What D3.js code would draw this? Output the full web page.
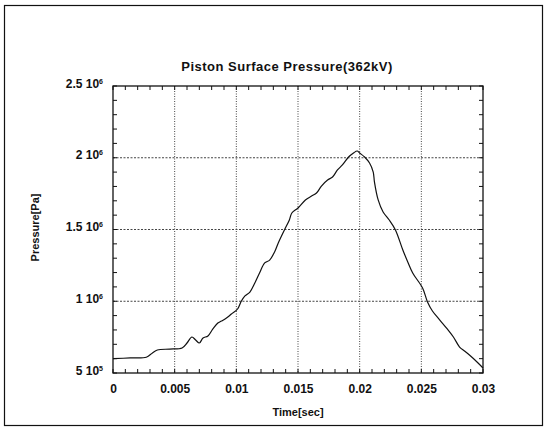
<!DOCTYPE html>
<html lang="en">
<head>
    <meta charset="UTF-8">
    <title>Piston Surface Pressure(362kV)</title>
    <script src="https://d3js.org/d3.v7.min.js"></script>
    <style>
        body { margin: 0; background: #fff; font-family: "Liberation Sans", Arial, sans-serif; }
        .tick text { font-weight: bold; }
    </style>
</head>
<body>
    <div id="chart"></div>
    <script>
        // time (s) and pressure (Pa)
        const timeValues = [0, 0.0014, 0.0027, 0.0032, 0.0036, 0.0046, 0.0056, 0.0060, 0.0064, 0.0067, 0.0070,
            0.0073, 0.0077, 0.0081, 0.0085, 0.0088, 0.0092, 0.0096, 0.0101, 0.0104, 0.0107, 0.0111, 0.0115,
            0.0119, 0.0123, 0.0127, 0.0131, 0.0134, 0.0139, 0.0143, 0.0145, 0.0150, 0.0156, 0.0161, 0.0165,
            0.0169, 0.0174, 0.0178, 0.0182, 0.0186, 0.0191, 0.0195, 0.0198, 0.0200, 0.0204, 0.0208, 0.0211,
            0.0212, 0.0215, 0.0219, 0.0224, 0.0229, 0.0235, 0.0239, 0.0243, 0.0251, 0.0255, 0.0259, 0.0265,
            0.0271, 0.0276, 0.0281, 0.0285, 0.0289, 0.0296, 0.0300];
        const pressureValues = [600000, 605000, 610000, 640000, 660000, 667000, 674000, 709000, 751000, 730000, 709000,
            744000, 758000, 807000, 848000, 862000, 883000, 911000, 946000, 1000000, 1037000, 1064000, 1127000,
            1200000, 1267000, 1287000, 1343000, 1406000, 1497000, 1566000, 1615000, 1650000, 1706000, 1733000, 1754000,
            1803000, 1845000, 1866000, 1915000, 1950000, 2005000, 2033000, 2047000, 2033000, 2005000, 1963000, 1900000,
            1830000, 1706000, 1622000, 1566000, 1497000, 1357000, 1274000, 1197000, 1092000, 995000, 932000, 869000,
            807000, 751000, 681000, 653000, 625000, 570000, 535000];

        const xTicks = [0, 0.005, 0.01, 0.015, 0.02, 0.025, 0.03];
        const xTickLabels = ["0", "0.005", "0.01", "0.015", "0.02", "0.025", "0.03"];
        const yTicks = [500000, 1000000, 1500000, 2000000, 2500000];
        const yTickMantissa = ["5", "1", "1.5", "2", "2.5"];
        const yTickExponent = ["5", "6", "6", "6", "6"];

        const width = 546, height = 429;
        const margin = { top: 86, right: 63, bottom: 56, left: 113 };
        const w = width - margin.left - margin.right;
        const h = height - margin.top - margin.bottom;

        const svg = d3.select("#chart").append("svg")
            .attr("width", width)
            .attr("height", height);

        // outer frame
        svg.append("rect")
            .attr("x", 4.5).attr("y", 5.5)
            .attr("width", 538).attr("height", 420)
            .attr("fill", "none").attr("stroke", "#111").attr("stroke-width", 1.2);

        const g = svg.append("g").attr("transform", `translate(${margin.left},${margin.top})`);

        const x = d3.scaleLinear().domain([0, 0.03]).range([0, w]);
        const y = d3.scaleLinear().domain([500000, 2500000]).range([h, 0]);

        // grid
        g.append("g").selectAll("line").data(xTicks.slice(1, -1)).enter().append("line")
            .attr("x1", d => x(d)).attr("x2", d => x(d)).attr("y1", 0).attr("y2", h)
            .attr("stroke", "#444").attr("stroke-dasharray", "1,1.5");
        g.append("g").selectAll("line").data(yTicks.slice(1, -1)).enter().append("line")
            .attr("y1", d => y(d)).attr("y2", d => y(d)).attr("x1", 0).attr("x2", w)
            .attr("stroke", "#444").attr("stroke-dasharray", "2,1.5");

        // minor + major ticks pointing inward on all four sides
        const xMinor = d3.range(0, 31).map(i => i * 0.001);
        const yMinor = d3.range(0, 21).map(i => 500000 + i * 100000);
        const tickG = g.append("g").attr("stroke", "#111");
        xMinor.forEach(t => {
            tickG.append("line").attr("x1", x(t)).attr("x2", x(t)).attr("y1", h).attr("y2", h - 4);
            tickG.append("line").attr("x1", x(t)).attr("x2", x(t)).attr("y1", 0).attr("y2", 4);
        });
        yMinor.forEach(p => {
            tickG.append("line").attr("y1", y(p)).attr("y2", y(p)).attr("x1", 0).attr("x2", 4);
            tickG.append("line").attr("y1", y(p)).attr("y2", y(p)).attr("x1", w).attr("x2", w - 4);
        });

        // x axis labels
        g.append("g")
            .attr("transform", `translate(0,${h})`)
            .call(d3.axisBottom(x).tickValues(xTicks).tickFormat((d, i) => xTickLabels[i]).tickSize(0).tickPadding(11))
            .call(a => a.select(".domain").remove())
            .selectAll("text").attr("font-size", 12).attr("fill", "#111")
            .attr("font-family", "'Liberation Sans', Arial, sans-serif");

        // y axis labels with superscript exponent
        const yAxis = g.append("g")
            .call(d3.axisLeft(y).tickValues(yTicks).tickSize(0).tickPadding(10).tickFormat(""));
        yAxis.select(".domain").remove();
        yAxis.selectAll(".tick text").each(function (d, i) {
            const t = d3.select(this)
                .attr("font-size", 12).attr("fill", "#111")
                .attr("font-family", "'Liberation Sans', Arial, sans-serif")
                .attr("dy", "0.1em");
            t.append("tspan").text(yTickMantissa[i] + " 10");
            t.append("tspan").text(yTickExponent[i]).attr("font-size", 7).attr("dy", "-0.6em");
        });

        // plot frame
        g.append("rect").attr("width", w).attr("height", h)
            .attr("fill", "none").attr("stroke", "#111").attr("stroke-width", 1.3);

        // curve
        const line = d3.line()
            .x((d, i) => x(timeValues[i]))
            .y(d => y(d))
            .curve(d3.curveCatmullRom);
        g.append("path")
            .datum(pressureValues)
            .attr("d", line)
            .attr("fill", "none")
            .attr("stroke", "#111")
            .attr("stroke-width", 1.2);

        // title and axis titles
        svg.append("text")
            .attr("x", 287).attr("y", 71)
            .attr("text-anchor", "middle")
            .attr("font-size", 13).attr("font-weight", "bold").attr("fill", "#111")
            .attr("letter-spacing", 0.5)
            .text("Piston Surface Pressure(362kV)");

        svg.append("text")
            .attr("x", margin.left + w / 2).attr("y", 416)
            .attr("text-anchor", "middle")
            .attr("font-size", 11).attr("font-weight", "bold").attr("fill", "#111")
            .text("Time[sec]");

        svg.append("text")
            .attr("transform", `translate(39,${margin.top + h / 2 - 2}) rotate(-90)`)
            .attr("text-anchor", "middle")
            .attr("font-size", 11).attr("font-weight", "bold").attr("fill", "#111")
            .text("Pressure[Pa]");
    </script>
</body>
</html>
